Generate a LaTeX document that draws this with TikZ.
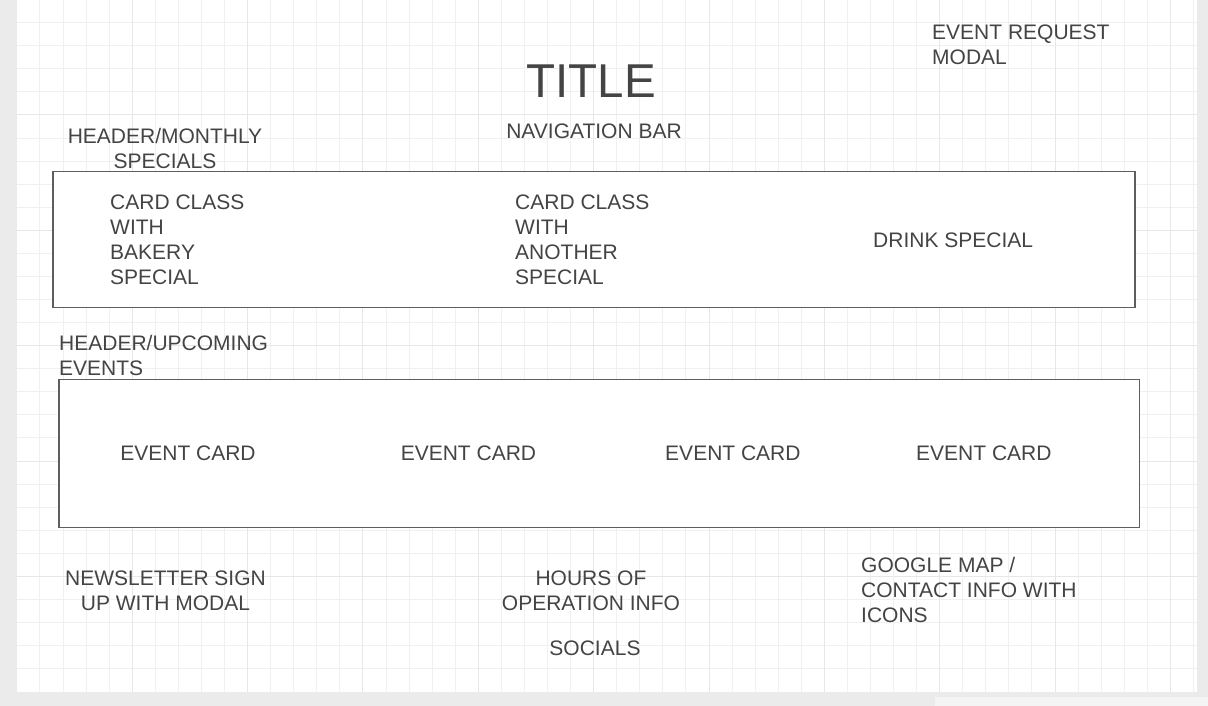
\documentclass[tikz,border=0pt]{standalone}
\usepackage{fontspec}
\setmainfont{Liberation Sans}
\usepackage{tikz}
\usetikzlibrary{positioning}

\definecolor{inkgrey}{HTML}{444444}
\definecolor{boxgrey}{HTML}{5E5E5E}
\definecolor{pagegrey}{HTML}{EBEBEB}
\definecolor{barwhite}{HTML}{F4F4F4}
\definecolor{gridminor}{HTML}{F0F0F0}
\definecolor{gridmajor}{HTML}{E7E7E7}

\begin{document}
\begin{tikzpicture}[x=1pt, y=-1pt,
        every node/.style={text=inkgrey, inner sep=0pt, font=\fontsize{21}{25}\selectfont},
        panel/.style={draw=boxgrey, line width=1.2pt, fill=white}]
        \useasboundingbox (0,0) rectangle (1208,706);

        % page and grid
        \fill[pagegrey] (0,0) rectangle (1208,706);
        \fill[barwhite] (935,697) rectangle (1208,706);
        \fill[white] (17,0) rectangle (1197,692);
        \foreach \k in {1,...,51}
            \draw[gridminor, line width=1pt] ({16.9+23.07*\k},0) -- ++(0,692);
        \foreach \k in {1,...,29}
            \draw[gridminor, line width=1pt] (17,{-0.37+23.07*\k}) -- (1197,{-0.37+23.07*\k});
        \foreach \k in {5,10,...,50}
            \draw[gridmajor, line width=1pt] ({16.9+23.07*\k},0) -- ++(0,692);
        \foreach \k in {5,10,...,25}
            \draw[gridmajor, line width=1pt] (17,{-0.37+23.07*\k}) -- (1197,{-0.37+23.07*\k});

        % top
        \node[font=\fontsize{47.5}{50}\selectfont] (title) at (591,81) {TITLE};
        \node (navbar) at (594,131) {NAVIGATION BAR};
        \node[anchor=west, align=left] (request) at (932,44.5) {EVENT REQUEST\\MODAL};

        % monthly specials
        \node[align=center] (specialshead) at (165,148) {HEADER/MONTHLY\\SPECIALS};
        \node[panel, minimum width=1082pt, minimum height=135.6pt] (specials) at (594,239.5) {};
        \node[anchor=west, align=left] (bakery) at (110,240) {CARD CLASS\\WITH\\BAKERY\\SPECIAL};
        \node[anchor=west, align=left] (another) at (515,240) {CARD CLASS\\WITH\\ANOTHER\\SPECIAL};
        \node[anchor=west] (drink) at (873,240) {DRINK SPECIAL};

        % upcoming events
        \node[anchor=west, align=left] (eventshead) at (59,355.5) {HEADER/UPCOMING\\EVENTS};
        \node[panel, minimum width=1080.5pt, minimum height=148pt] (events) at (599.25,453.3) {};
        \node (event1) at (188,453) {EVENT CARD};
        \node[right of=event1, xshift=252pt] (event2) {EVENT CARD};
        \node[right of=event2, xshift=236pt] (event3) {EVENT CARD};
        \node[right of=event3, xshift=222.5pt] (event4) {EVENT CARD};

        % footer
        \node[align=center] (newsletter) at (165.5,590.5) {NEWSLETTER SIGN\\UP WITH MODAL};
        \node[align=center] (hours) at (591,590.5) {HOURS OF\\OPERATION INFO};
        \node (socials) at (595,648) {SOCIALS};
        \node[anchor=west, align=left] (contact) at (861,590) {GOOGLE MAP /\\CONTACT INFO WITH\\ICONS};
    \end{tikzpicture}
\end{document}
